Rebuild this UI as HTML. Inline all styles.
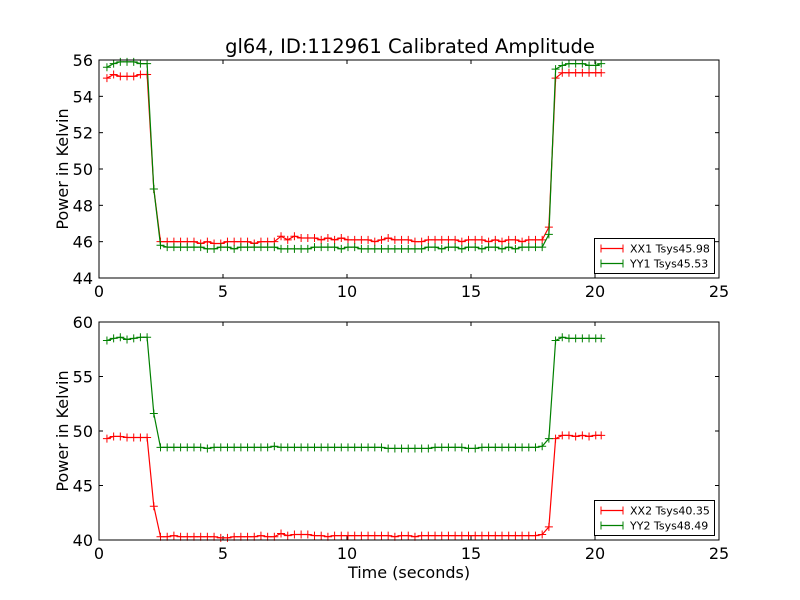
<!DOCTYPE html>
<html><head><meta charset="utf-8"><style>
body{margin:0;background:#fff}
svg{display:block;font-family:"DejaVu Sans","Liberation Sans",sans-serif}
</style></head><body>
<svg id="fig" width="800" height="600" viewBox="0 0 800 600">
<rect width="800" height="600" fill="#fff"/>
<text x="410" y="53" font-size="19.5" text-anchor="middle">gl64, ID:112961 Calibrated Amplitude</text>
</svg>
<script>
const times=[0.32,0.59,0.86,1.13,1.40,1.67,1.94,2.21,2.48,2.75,3.02,3.29,3.56,3.83,4.10,4.37,4.64,4.91,5.18,5.45,5.72,5.99,6.26,6.53,6.80,7.07,7.34,7.61,7.88,8.15,8.42,8.69,8.96,9.23,9.50,9.77,10.04,10.31,10.58,10.85,11.12,11.39,11.66,11.93,12.20,12.47,12.74,13.01,13.28,13.55,13.82,14.09,14.36,14.63,14.90,15.17,15.44,15.71,15.98,16.25,16.52,16.79,17.06,17.33,17.60,17.87,18.14,18.41,18.68,18.95,19.22,19.49,19.76,20.03,20.25];
const xx1=[55.0,55.2,55.1,55.1,55.1,55.2,55.2,48.9,46.0,46.0,
46.0,46.0,46.0,46.0,45.9,46.0,45.9,45.9,46.0,46.0,
46.0,46.0,45.9,46.0,46.0,46.0,46.3,46.1,46.3,46.2,
46.2,46.2,46.1,46.2,46.1,46.2,46.1,46.1,46.1,46.1,
46.0,46.1,46.2,46.1,46.1,46.1,46.0,46.0,46.1,46.1,
46.1,46.1,46.1,46.0,46.1,46.1,46.1,46.0,46.1,46.0,
46.1,46.1,46.0,46.1,46.1,46.1,46.8,55.0,55.3,55.3,
55.3,55.3,55.3,55.3,55.3];
const yy1=[55.6,55.8,55.9,55.9,55.9,55.8,55.8,48.9,45.8,45.7,
45.7,45.7,45.7,45.7,45.7,45.6,45.6,45.7,45.7,45.6,
45.7,45.7,45.7,45.7,45.7,45.7,45.6,45.6,45.6,45.6,
45.6,45.7,45.7,45.7,45.7,45.6,45.7,45.7,45.6,45.6,
45.6,45.6,45.6,45.6,45.6,45.6,45.6,45.6,45.7,45.7,
45.6,45.7,45.7,45.6,45.7,45.7,45.6,45.7,45.7,45.6,
45.7,45.6,45.7,45.7,45.7,45.7,46.4,55.5,55.7,55.8,
55.8,55.8,55.7,55.7,55.8];
const xx2=[49.3,49.5,49.5,49.4,49.4,49.4,49.4,43.1,40.3,40.3,
40.4,40.3,40.3,40.3,40.3,40.3,40.3,40.2,40.2,40.3,
40.3,40.3,40.3,40.4,40.3,40.3,40.6,40.4,40.5,40.5,
40.5,40.4,40.4,40.3,40.4,40.4,40.4,40.4,40.4,40.4,
40.4,40.4,40.4,40.3,40.4,40.4,40.3,40.4,40.4,40.4,
40.4,40.4,40.4,40.4,40.4,40.4,40.4,40.4,40.4,40.4,
40.4,40.4,40.4,40.4,40.4,40.5,41.2,49.3,49.6,49.6,
49.5,49.6,49.5,49.6,49.6];
const yy2=[58.3,58.5,58.6,58.4,58.5,58.6,58.6,51.6,48.5,48.5,
48.5,48.5,48.5,48.5,48.5,48.4,48.5,48.5,48.5,48.5,
48.5,48.5,48.5,48.5,48.5,48.6,48.5,48.5,48.5,48.5,
48.5,48.5,48.5,48.5,48.5,48.5,48.5,48.5,48.5,48.5,
48.5,48.5,48.4,48.4,48.4,48.4,48.4,48.4,48.4,48.5,
48.5,48.5,48.5,48.5,48.4,48.4,48.5,48.5,48.5,48.5,
48.5,48.5,48.5,48.5,48.5,48.6,49.3,58.3,58.6,58.5,
58.5,58.5,58.5,58.5,58.5];
const xTicks=[0,5,10,15,20,25];
const yTicks1=[44,46,48,50,52,54,56];
const yTicks2=[40,45,50,55,60];
const legend1=["XX1 Tsys45.98","YY1 Tsys45.53"];
const legend2=["XX2 Tsys40.35","YY2 Tsys48.49"];

const NS="http://www.w3.org/2000/svg";
const svg=document.getElementById('fig');
function mk(tag,attrs,parent){const e=document.createElementNS(NS,tag);for(const k in attrs)e.setAttribute(k,attrs[k]);(parent||svg).appendChild(e);return e;}

function panel(id,top,bottom,ymin,ymax,yTicks,s1,s2,leg,legTop,showXLabel){
  const L=99,R=719;
  const g=mk('g',{});
  
  
  const sx=v=>L+(v-0)/(25-0)*(R-L);
  const sy=v=>bottom-(v-ymin)/(ymax-ymin)*(bottom-top);
  xTicks.forEach(t=>{
    const x=sx(t);
    const a=mk('line',{x1:x,x2:x,y1:bottom,y2:bottom-4,stroke:'#000'},g);
    
    
    mk('line',{x1:x,x2:x,y1:top,y2:top+4,stroke:'#000'},g);
    const tx=mk('text',{x:x,y:bottom+19,'font-size':16,'text-anchor':'middle'},g);
    tx.textContent=t;
    
    
  });
  yTicks.forEach(t=>{
    const y=sy(t);
    mk('line',{x1:L,x2:L+4,y1:y,y2:y,stroke:'#000'},g);
    mk('line',{x1:R,x2:R-4,y1:y,y2:y,stroke:'#000'},g);
    const ty=mk('text',{x:L-6,y:y+6,'font-size':16,'text-anchor':'end'},g);
    ty.textContent=t;
    
    
  });
  [[s1,'#ff0000','xx'],[s2,'#008000','yy']].forEach(([vals,col,nm])=>{
    const pts=times.map((t,i)=>sx(t).toFixed(1)+','+sy(vals[i]).toFixed(1)).join(' ');
    const pl=mk('polyline',{points:pts,fill:'none',stroke:col,'stroke-width':1.2},g);
    
    
    times.forEach((t,i)=>{
      const x=sx(t),y=sy(vals[i]);
      const p=mk('path',{d:`M${x-4},${y}H${x+4}M${x},${y-4}V${y+4}`,stroke:col,'stroke-width':1},g);
      
      
    });
  });
  const fr=mk('rect',{x:L,y:top,width:R-L,height:bottom-top,fill:'none',stroke:'#000','stroke-width':1},g);
  
  
  const yl=mk('text',{x:0,y:0,'font-size':16,'text-anchor':'middle',transform:`translate(68,${(top+bottom)/2}) rotate(-90)`},g);
  yl.textContent='Power in Kelvin';
  
  
  if(showXLabel){
    const xl=mk('text',{x:(L+R)/2,y:bottom+38,'font-size':16,'text-anchor':'middle'},g);
    xl.textContent='Time (seconds)';
    
    
  }
  const lg=mk('g',{},g);
  
  
  mk('rect',{x:594.5,y:legTop,width:120,height:35,fill:'#fff',stroke:'#000'},lg);
  ['#ff0000','#008000'].forEach((c,i)=>{
    const y=legTop+10+i*15;
    mk('line',{x1:601,x2:623,y1:y,y2:y,stroke:c,'stroke-width':1.2},lg);
    mk('path',{d:`M601,${y-4}V${y+4}M623,${y-4}V${y+4}`,stroke:c},lg);
    const t=mk('text',{x:630,y:y+4,'font-size':11},lg);
    t.textContent=leg[i];
    
    
  });
}
panel('top-plot',60,278,44,56,yTicks1,xx1,yy1,legend1,238.5,false);
panel('bottom-plot',322,540,40,60,yTicks2,xx2,yy2,legend2,500.5,true);
</script>
</body></html>
